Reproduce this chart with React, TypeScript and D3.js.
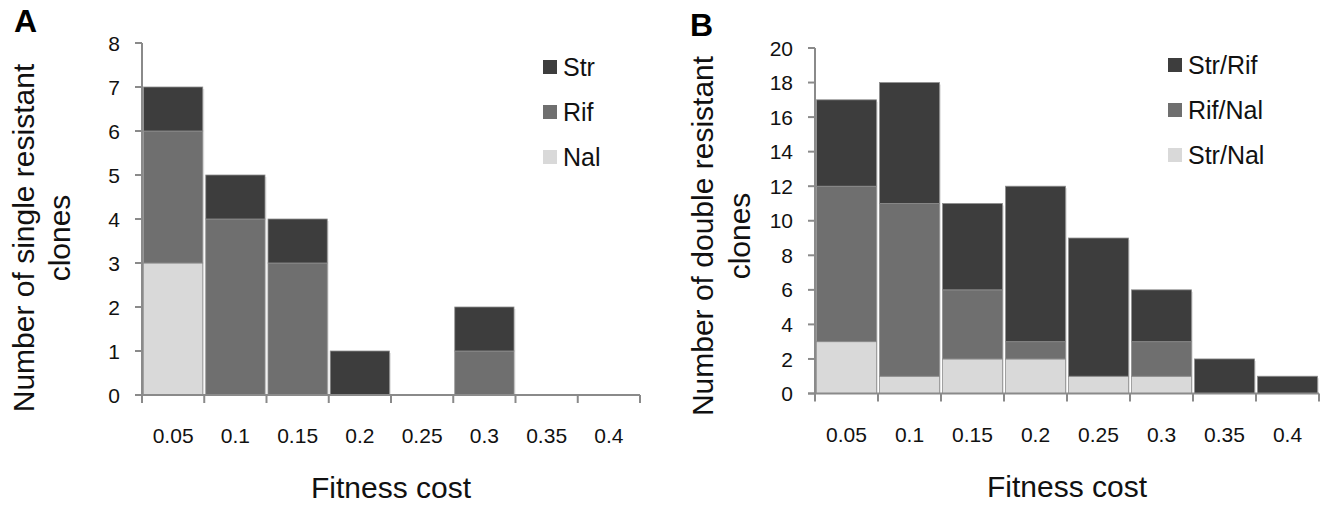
import React from "react";
import * as d3 from "d3";

const categories = ["0.05", "0.1", "0.15", "0.2", "0.25", "0.3", "0.35", "0.4"];

// Panel A: single resistant clones (stack order bottom -> top)
const singleNal = [3, 0, 0, 0, 0, 0, 0, 0];
const singleRif = [3, 4, 3, 0, 0, 1, 0, 0];
const singleStr = [1, 1, 1, 1, 0, 1, 0, 0];
const singleSeries = ["Nal", "Rif", "Str"];
const singleTicks = [0, 1, 2, 3, 4, 5, 6, 7, 8];

// Panel B: double resistant clones (stack order bottom -> top)
const doubleStrNal = [3, 1, 2, 2, 1, 1, 0, 0];
const doubleRifNal = [9, 10, 4, 1, 0, 2, 0, 0];
const doubleStrRif = [5, 7, 5, 9, 8, 3, 2, 1];
const doubleSeries = ["Str/Nal", "Rif/Nal", "Str/Rif"];
const doubleTicks = [0, 2, 4, 6, 8, 10, 12, 14, 16, 18, 20];

const COLORS = ["#d9d9d9", "#6f6f6f", "#3d3d3d"];
const FONT = "'Liberation Sans', Arial, Helvetica, sans-serif";
const AXIS = "#8a8a8a";

type PanelProps = {
  letter: string;
  letterX: number;
  letterY: number;
  series: string[];
  values: number[][];
  ticks: number[];
  yMax: number;
  x0: number;
  x1: number;
  y0: number;
  y1: number;
  titleLines: string[];
  titleX: number[];
  titleCY: number;
  legendX: number;
  legendY: number;
};

function Panel(p: PanelProps) {
  const x = d3.scaleBand<string>().domain(categories).range([p.x0, p.x1]).padding(0);
  const y = d3.scaleLinear().domain([0, p.yMax]).range([p.y0, p.y1]);
  const table = categories.map((c, i) => {
    const row: Record<string, number | string> = { cat: c };
    p.series.forEach((s, k) => (row[s] = p.values[k][i]));
    return row;
  });
  const stack = d3.stack<Record<string, number | string>>().keys(p.series)(table as any);
  const bw = x.bandwidth();
  const boundaries = categories.map((c) => x(c) as number).concat([p.x1]);
  const legendOrder = [...p.series].map((s, k) => ({ s, k })).reverse();
  const totals = categories.map((_, i) => p.values.reduce((a, v) => a + v[i], 0));

  return (
    <g>
      <text x={p.letterX} y={p.letterY} fontFamily={FONT} fontWeight="bold" fontSize={32} fill="#000">
        {p.letter}
      </text>
      {/* soft shadows */}
      {totals.map((t, i) =>
        t > 0 ? (
          <rect
            key={"sh" + i}
            x={(x(categories[i]) as number) + 3}
            y={y(t) + 2}
            width={bw - 3}
            height={p.y0 - y(t) - 2}
            fill="#e4e4e4"
          />
        ) : null
      )}
      {stack.map((layer, k) => (
        <g key={k}>
          {layer.map((d, i) => {
            const h = y(d[0]) - y(d[1]);
            if (h <= 0) return null;
            return (
              <rect
                key={i}
                x={(x(categories[i]) as number) + 1.5}
                y={y(d[1])}
                width={bw - 3}
                height={h}
                fill={COLORS[k]}
                stroke="#8e8e8e"
                strokeWidth={0.8}
              />
            );
          })}
        </g>
      ))}
      {/* y axis */}
      <line x1={p.x0} x2={p.x0} y1={p.y0} y2={y(p.yMax)} stroke={AXIS} strokeWidth={2} />
      {p.ticks.map((t) => (
        <g key={t}>
          <line x1={p.x0 - 7} x2={p.x0} y1={y(t)} y2={y(t)} stroke={AXIS} strokeWidth={2} />
          <text
            x={p.x0 - 22}
            y={y(t)}
            dy="0.36em"
            textAnchor="end"
            fontFamily={FONT}
            fontSize={21}
            fill="#111"
          >
            {t}
          </text>
        </g>
      ))}
      {/* x axis */}
      <line x1={p.x0 - 7} x2={p.x1} y1={p.y0} y2={p.y0} stroke={AXIS} strokeWidth={2} />
      {boundaries.map((bx, i) => (
        <line key={i} x1={bx} x2={bx} y1={p.y0} y2={p.y0 + 8} stroke={AXIS} strokeWidth={2} />
      ))}
      {categories.map((c) => (
        <text
          key={c}
          x={(x(c) as number) + bw / 2}
          y={p.y0 + 48}
          textAnchor="middle"
          fontFamily={FONT}
          fontSize={21}
          fill="#111"
        >
          {c}
        </text>
      ))}
      <text
        x={(p.x0 + p.x1) / 2}
        y={p.y0 + 103}
        textAnchor="middle"
        fontFamily={FONT}
        fontSize={30}
        fill="#111"
      >
        Fitness cost
      </text>
      {p.titleLines.map((line, i) => (
        <text
          key={i}
          transform={`translate(${p.titleX[i]},${p.titleCY}) rotate(-90)`}
          textAnchor="middle"
          fontFamily={FONT}
          fontSize={30}
          fill="#111"
        >
          {line}
        </text>
      ))}
      {legendOrder.map(({ s, k }, j) => (
        <g key={s} transform={`translate(${p.legendX},${p.legendY + j * 45})`}>
          <rect x={0} y={0} width={14} height={14} fill={COLORS[k]} />
          <text x={20} y={7} dy="0.36em" fontFamily={FONT} fontSize={25} fill="#111">
            {s}
          </text>
        </g>
      ))}
    </g>
  );
}

export default function App() {
  return (
    <svg
      width={1324}
      height={505}
      viewBox="0 0 1324 505"
      style={{ position: "absolute", left: 0, top: 0, background: "#fff" }}
    >
      <rect width={1324} height={505} fill="#fff" />
      <Panel
        letter="A"
        letterX={14}
        letterY={32}
        series={singleSeries}
        values={[singleNal, singleRif, singleStr]}
        ticks={singleTicks}
        yMax={8}
        x0={142}
        x1={640}
        y0={395}
        y1={43}
        titleLines={["Number of single resistant", "clones"]}
        titleX={[34, 70]}
        titleCY={238}
        legendX={543}
        legendY={60}
      />
      <Panel
        letter="B"
        letterX={690}
        letterY={36}
        series={doubleSeries}
        values={[doubleStrNal, doubleRifNal, doubleStrRif]}
        ticks={doubleTicks}
        yMax={20}
        x0={815}
        x1={1319}
        y0={393.5}
        y1={48}
        titleLines={["Number of double resistant", "clones"]}
        titleX={[713, 750]}
        titleCY={236}
        legendX={1168}
        legendY={58}
      />
    </svg>
  );
}
